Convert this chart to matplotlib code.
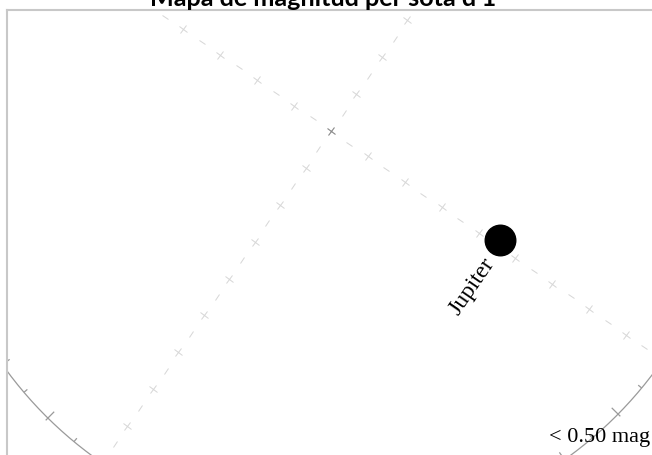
import numpy as np
import matplotlib.pyplot as plt
from matplotlib.markers import MarkerStyle
from matplotlib.transforms import Affine2D
from matplotlib.collections import LineCollection

# chart data (degrees, chart frame: u along the first great circle, v across it)
title = "Mapa de magnitud per sota d'1"
rot = -34.6                      # rotation of the chart frame
line_ticks = np.array([t for t in range(-90, 91, 10) if t != 0])
line_dashes = np.arange(-85, 90, 10)
horizon_alt = 90
az_ticks = np.arange(0, 360, 5)
planet_names = ["Jupiter"]
planet_u = [44.8]
planet_v = [1.4]
mag_label = "< 0.50 mag"


def to_xy(u, v):
    t = np.radians(rot)
    u = np.asarray(u, float)
    v = np.asarray(v, float)
    return u * np.cos(t) - v * np.sin(t), u * np.sin(t) + v * np.cos(t)


W, H = 652, 456
s = 4.48                 # pixels per degree
cx, cy = 331, 324        # chart centre in figure pixels
left, right, top, bottom = 7, 665, 445, -10

fig = plt.figure(figsize=(W / 100, H / 100), dpi=100)
ax = fig.add_axes([left / W, bottom / H, (right - left) / W, (top - bottom) / H])
ax.set_xlim((left - cx) / s, (right - cx) / s)
ax.set_ylim((bottom - cy) / s, (top - cy) / s)
ax.set_xticks([])
ax.set_yticks([])
for sp in ax.spines.values():
    sp.set_color('#c8c8c8')
    sp.set_linewidth(1.5)

light = '#d6d6d6'
cross = MarkerStyle('+', transform=Affine2D().rotate_deg(rot))
dash_a = MarkerStyle('_', transform=Affine2D().rotate_deg(rot))
dash_b = MarkerStyle('_', transform=Affine2D().rotate_deg(rot + 90))

# first line (u axis)
x, y = to_xy(line_ticks, np.zeros_like(line_ticks))
ax.plot(x, y, ls='none', marker=cross, ms=7, mew=0.7, color=light)
x, y = to_xy(line_dashes, np.zeros_like(line_dashes))
ax.plot(x, y, ls='none', marker=dash_a, ms=6, mew=0.7, color=light)
# second line (v axis)
x, y = to_xy(np.zeros_like(line_ticks), line_ticks)
ax.plot(x, y, ls='none', marker=cross, ms=7, mew=0.7, color=light)
x, y = to_xy(np.zeros_like(line_dashes), line_dashes)
ax.plot(x, y, ls='none', marker=dash_b, ms=6, mew=0.7, color=light)
# centre
ax.plot(0, 0, ls='none', marker=cross, ms=7, mew=0.8, color='#888888')

# horizon
ang = np.radians(np.linspace(0, 360, 721))
ax.plot(horizon_alt * np.cos(ang), horizon_alt * np.sin(ang), color='#9a9a9a', lw=0.9)
segs = []
for az in az_ticks:
    a = np.radians(rot + az)
    r0, r1 = (horizon_alt - 2.0, horizon_alt + 0.7) if az % 10 == 0 else (horizon_alt - 1.0, horizon_alt)
    segs.append([(r0 * np.cos(a), r0 * np.sin(a)), (r1 * np.cos(a), r1 * np.sin(a))])
ax.add_collection(LineCollection(segs, colors='#9a9a9a', linewidths=0.9))

# planets
for name, u, v in zip(planet_names, planet_u, planet_v):
    px, py = to_xy(u, v)
    ax.plot(px, py, 'o', ms=22, color='black', zorder=5)
    ax.annotate(name, (px, py), xytext=(-7, -14), textcoords='offset points',
                rotation=rot + 90, rotation_mode='anchor', ha='right', va='center',
                family='Liberation Serif', fontsize=17)

fig.text(650 / W, (H - 442) / H, mag_label, ha='right', va='baseline',
         family='Liberation Serif', fontsize=16)
fig.text(323.5 / W, (H - 6) / H, title, ha='center', va='baseline',
         family='Lato', fontweight='bold', fontsize=18.2)

fig.savefig('out.png', dpi=100)
